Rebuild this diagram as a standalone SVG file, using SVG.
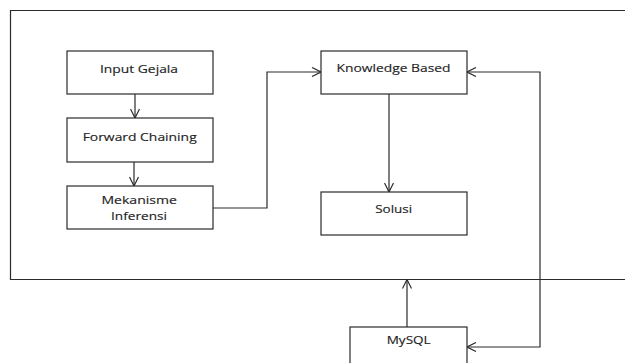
<svg xmlns="http://www.w3.org/2000/svg" width="625" height="363" viewBox="0 0 625 363">
  <style>
    .box { fill: #ffffff; stroke: #2b2b2b; stroke-width: 1.2; }
    .frame { fill: none; stroke: #2b2b2b; stroke-width: 1.2; }
    .lbl { font-family: "Open Sans", "Liberation Sans", sans-serif; font-size: 11.3px; fill: #1e1e1e; text-anchor: middle; stroke: #1e1e1e; stroke-width: 0.15; }
    .wire { fill: none; stroke: #2b2b2b; stroke-width: 1.2; marker-end: url(#vee); }
  </style>
  <defs>
    <marker id="vee" viewBox="0 0 10 10" refX="10" refY="5" markerWidth="10" markerHeight="10" markerUnits="userSpaceOnUse" orient="auto">
      <path d="M1,0.5 L10,5 L1,9.5" fill="none" stroke="#2b2b2b" stroke-width="1.2"/>
    </marker>
  </defs>
  <rect width="625" height="363" fill="#ffffff"/>

  <!-- system boundary (open on the right) -->
  <path class="frame" d="M625,10.5 H10.5 V279.5 H625"/>

  <g id="input-gejala">
    <rect class="box" x="67" y="51" width="146" height="43"/>
    <text class="lbl" x="139" y="72.5" textLength="78" lengthAdjust="spacingAndGlyphs">Input Gejala</text>
  </g>
  <g id="forward-chaining">
    <rect class="box" x="67" y="118" width="146" height="44"/>
    <text class="lbl" x="139.7" y="140.5" textLength="114" lengthAdjust="spacingAndGlyphs">Forward Chaining</text>
  </g>
  <g id="mekanisme-inferensi">
    <rect class="box" x="67" y="186" width="146" height="43"/>
    <text class="lbl" x="139.2" y="204.3" textLength="75.5" lengthAdjust="spacingAndGlyphs">Mekanisme</text>
    <text class="lbl" x="139" y="220.3" textLength="56" lengthAdjust="spacingAndGlyphs">Inferensi</text>
  </g>
  <g id="knowledge-based">
    <rect class="box" x="321" y="51" width="146" height="43"/>
    <text class="lbl" x="393.5" y="72.3" textLength="114" lengthAdjust="spacingAndGlyphs">Knowledge Based</text>
  </g>
  <g id="solusi">
    <rect class="box" x="321" y="192" width="146" height="43"/>
    <text class="lbl" x="393.7" y="213" textLength="37" lengthAdjust="spacingAndGlyphs">Solusi</text>
  </g>
  <g id="mysql">
    <rect class="box" x="350" y="327" width="117" height="45"/>
    <text class="lbl" x="408.7" y="344.3" textLength="44" lengthAdjust="spacingAndGlyphs">MySQL</text>
  </g>

  <g id="connectors">
    <path class="wire" d="M135,94 V118"/>
    <path class="wire" d="M134,162 V186"/>
    <path class="wire" d="M213,208 H267 V72 H321"/>
    <path class="wire" d="M389,94 V192"/>
    <path class="wire" d="M407,327 V279.5"/>
    <path class="wire" d="M540,279 V72 H467"/>
    <path class="wire" d="M540,279 V347 H467"/>
  </g>
</svg>
